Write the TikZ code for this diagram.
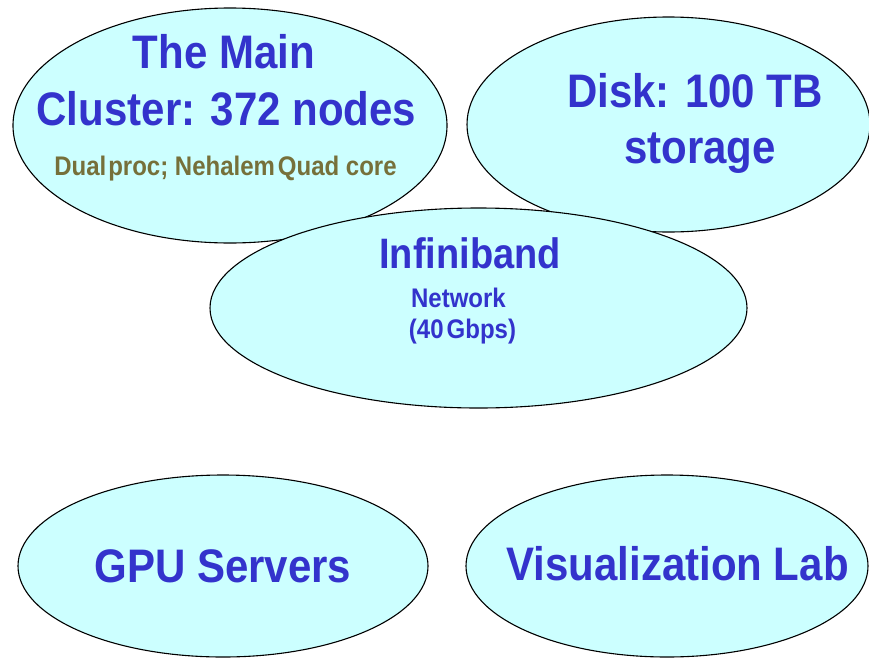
\documentclass[tikz,border=0pt]{standalone}
\usepackage{fontspec}
\setmainfont{Liberation Sans}
\usetikzlibrary{shapes.geometric}
\definecolor{cyanfill}{HTML}{CCFFFF}
\definecolor{txtblue}{HTML}{3333CC}
\definecolor{olive}{RGB}{118,112,58}
\newcommand\vstr[1]{\scalebox{1}[1.12]{#1}}
\tikzset{
  blob/.style={ellipse, draw=black, line width=1.1pt, fill=cyanfill, inner sep=0pt},
  big/.style={anchor=base, inner sep=0pt, text=txtblue, font=\fontsize{42}{42}\selectfont\bfseries},
  small/.style={anchor=base, inner sep=0pt, text=txtblue, font=\fontsize{24}{24}\selectfont\bfseries},
  note/.style={anchor=base, inner sep=0pt, text=olive, font=\fontsize{24}{24}\selectfont\bfseries}
}
\begin{document}
\begin{tikzpicture}[x=1pt,y=-1pt]
\useasboundingbox (0,0) rectangle (869,659);
% ellipses
\node[blob, minimum width=434pt, minimum height=235pt] (main) at (230,125.5) {};
\node[blob, minimum width=403pt, minimum height=215pt] (disk) at (668.5,124.5) {};
\node[blob, minimum width=537pt, minimum height=200pt] (ib) at (478.5,308) {};
\node[blob, minimum width=410pt, minimum height=182pt] (gpu) at (223,566) {};
\node[blob, minimum width=402pt, minimum height=182pt] (vis) at (667,566) {};
% texts
\node[big] (mainA) at (224,68) {\vstr{The Main}};
\node[big] (mainB) at (226.5,125) {\vstr{Cluster: 372 nodes}};
\node[note] (mainC) at (225.5,175) {\vstr{Dual\hspace{2pt}proc; Nehalem\hspace{3pt}Quad core}};
\node[big] (diskA) at (695,107) {\vstr{Disk: 100 TB}};
\node[big] (diskB) at (700,163) {\vstr{storage}};
\node[big, font=\fontsize{38}{38}\selectfont\bfseries] (ibA) at (470,268) {\vstr{Infiniband}};
\node[small] (ibB) at (458.5,307) {\vstr{Network}};
\node[small] (ibC) at (462.5,338) {\vstr{(40\hspace{3pt}Gbps)}};
\node[big] (gpuA) at (223,582) {\vstr{GPU Servers}};
\node[big] (visA) at (677.5,580) {\vstr{Visualization Lab}};
\end{tikzpicture}
\end{document}
